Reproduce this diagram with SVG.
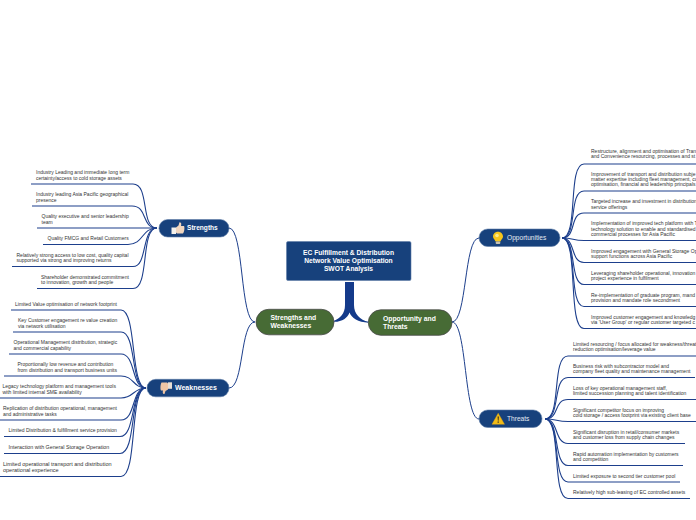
<svg xmlns="http://www.w3.org/2000/svg" width="696" height="520" viewBox="0 0 696 520">
<style>
text{font-family:"Liberation Sans",Arial,sans-serif}
.i{font-size:5px;fill:#333}
.j{font-size:5.3px;fill:#333}
.k{font-size:5.5px;fill:#333}
.b{fill:#17417c;stroke:#5f7ea8;stroke-width:.6}
.g{fill:#476b35;stroke:#4a4a4a;stroke-width:.8}
.w{fill:#fff;font-weight:bold}
.c{fill:none;stroke:#1d3f8c;stroke-width:1.1}
.m{fill:none;stroke:#1d3f8c;stroke-width:1}
</style>
<g id="connectors">
<path d="M345 282H354V305C354 314 360 320 368.500 321.800V322.800C358 322 351.500 318 349.500 312.500C347.500 318 342 322 334 321.800V320.800C340 318 345 314 345 305Z" fill="#143a8a"/>
<path class="m" d="M255 322C240 322 244 228 229 228"/>
<path class="m" d="M255 322C240 322 244 388 229 388"/>
<path class="m" d="M452 322C467 322 464 238 479 238"/>
<path class="m" d="M452 322C467 322 464 419 479 419"/>
<path class="c" d="M31 184H133C150 184 140 228 157 228"/>
<path class="c" d="M32 206H132C148 206 141 228 157 228"/>
<path class="c" d="M37 228H157"/>
<path class="c" d="M43 244.500H128C144 244.500 141 228 157 228"/>
<path class="c" d="M12 266.500H133C148 266.500 141 228 157 228"/>
<path class="c" d="M37 288.500H133C150 288.500 140 228 157 228"/>
<path class="c" d="M11 310H121C137 310 130 388 146 388"/>
<path class="c" d="M13 332H121C137 332 130 388 146 388"/>
<path class="c" d="M9 354H121C136 354 131 388 146 388"/>
<path class="c" d="M4 376H121C134 376 133 388 146 388"/>
<path class="c" d="M0 398H121C134 398 133 388 146 388"/>
<path class="c" d="M0 420H121C136 420 131 388 146 388"/>
<path class="c" d="M4 436.500H120C136 436.500 130 388 146 388"/>
<path class="c" d="M4 453.500H120C137 453.500 129 388 146 388"/>
<path class="c" d="M0 476.500H121C138 476.500 129 388 146 388"/>
<path class="c" d="M696 164H584C567 164 579 238 562 238"/>
<path class="c" d="M696 191H584C568 191 578 238 562 238"/>
<path class="c" d="M696 213H584C569 213 577 238 562 238"/>
<path class="c" d="M696 240.500H584C572 240.500 574 238 562 238"/>
<path class="c" d="M696 262.500H584C570 262.500 576 238 562 238"/>
<path class="c" d="M696 284.500H584C569 284.500 577 238 562 238"/>
<path class="c" d="M696 306.500H584C568 306.500 578 238 562 238"/>
<path class="c" d="M696 328.500H584C567 328.500 579 238 562 238"/>
<path class="c" d="M696 356H568C551 356 562 419 545 419"/>
<path class="c" d="M695 377.500H568C552 377.500 561 419 545 419"/>
<path class="c" d="M696 399.500H568C553 399.500 560 419 545 419"/>
<path class="c" d="M696 421.500H568C556 421.500 557 419 545 419"/>
<path class="c" d="M685 443.500H568C554 443.500 559 419 545 419"/>
<path class="c" d="M683 465.500H568C553 465.500 560 419 545 419"/>
<path class="c" d="M680 482H568C552 482 561 419 545 419"/>
<path class="c" d="M690 498.500H568C551 498.500 562 419 545 419"/>
</g>
<g id="central"><rect class="b" x="286.500" y="241.500" width="124.500" height="39" rx="1.500"/>
<text class="w" font-size="6.700" text-anchor="middle"><tspan x="348.500" y="254.800">EC Fulfillment &amp; Distribution</tspan><tspan x="348.500" y="262.800">Network Value Optimisation</tspan><tspan x="348.500" y="270.800">SWOT Analysis</tspan></text></g>
<g id="strengths-weaknesses"><rect class="g" x="256" y="309.300" width="78" height="25.500" rx="12.700"/>
<text class="w" font-size="6.800"><tspan x="270.500" y="319.700">Strengths and</tspan><tspan x="270.500" y="327.700">Weaknesses</tspan></text></g>
<g id="opportunity-threats"><rect class="g" x="368.300" y="309.800" width="83.700" height="25.500" rx="12.700"/>
<text class="w" font-size="6.800"><tspan x="383" y="321">Opportunity and</tspan><tspan x="383" y="329">Threats</tspan></text></g>
<g id="strengths"><rect class="b" x="159" y="219.500" width="70" height="17.500" rx="8.700"/>
<g id="icon-thumb-up"><path d="M176 227.500L178.500 225.500L179.500 222.300C181.500 222 181.500 224.500 181 226H184C184.800 227 184.500 232 183 233.500H177L176 232.500Z" fill="#f1d6bf"/><rect x="171.500" y="227.500" width="4.500" height="6.500" fill="#f4f1ec"/></g>
<text class="w" font-size="6.600" x="187" y="230.400">Strengths</text></g>
<g id="weaknesses"><rect class="b" x="147" y="379.300" width="82" height="17.500" rx="8.700"/>
<g id="icon-thumb-down"><path d="M168 389.500L165.500 391L164.500 394C162.500 394.500 162.500 392 163 390.500H161C160 389 160.500 384 161.500 382.500H167L168 383.500Z" fill="#eec5a5"/><rect x="168" y="382.300" width="4" height="6.500" fill="#e9dfd5"/></g>
<text class="w" font-size="7" x="175" y="390.400">Weaknesses</text></g>
<g id="opportunities"><rect class="b" x="479" y="229" width="81" height="17.500" rx="8.700"/>
<g id="icon-bulb"><path d="M498 231.700C501 231.700 503 234 503 236.500C503 238.700 501 239.500 500.500 241.500H495.500C495 239.500 493 238.700 493 236.500C493 234 495 231.700 498 231.700Z" fill="#f7c61c"/><circle cx="497" cy="235.500" r="1.800" fill="#fdeb8c"/><rect x="495.700" y="241.500" width="4.600" height="2.500" rx="1" fill="#c9c3b2"/></g>
<text font-size="6.600" fill="#e4eaf3" x="507" y="240.200">Opportunities</text></g>
<g id="threats"><rect class="b" x="479" y="410" width="63" height="17.500" rx="8.700"/>
<g id="icon-warning"><path d="M498.200 413.200L504.500 424.300H492Z" fill="#f2bc17" stroke="#e0a30f" stroke-width=".4" stroke-linejoin="round"/><path d="M497.600 416.500H498.800L498.500 420.800H497.900Z" fill="#222"/><rect x="497.600" y="421.500" width="1.200" height="1.200" fill="#222"/></g>
<text font-size="6.600" fill="#e4eaf3" x="507" y="421.200">Threats</text></g>
<g id="strength-items">
<text class="i"><tspan x="36" y="173.800">Industry Leading and immediate long term</tspan><tspan x="36" y="179.800">certainty/access to cold storage assets</tspan></text>
<text class="i"><tspan x="36" y="195.800">Industry leading Asia Pacific geographical</tspan><tspan x="36" y="201.800">presence</tspan></text>
<text class="i"><tspan x="41.500" y="217.800">Quality executive and senior leadership</tspan><tspan x="41.500" y="223.800">team</tspan></text>
<text class="i" x="47.500" y="239.800">Quality FMCG and Retail Customers</text>
<text class="i"><tspan x="16.500" y="256.800">Relatively strong access to low cost, quality capital</tspan><tspan x="16.500" y="261.800">supported via strong and improving returns</tspan></text>
<text class="i"><tspan x="41" y="278.800">Shareholder demonstrated commitment</tspan><tspan x="41" y="284">to innovation, growth and people</tspan></text>
</g>
<g id="weakness-items">
<text class="i" x="15" y="305.800">Limited Value optimisation of network footprint</text>
<text class="i"><tspan x="18" y="321.800">Key Customer engagement re value creation</tspan><tspan x="18" y="327.800">via network utilisation</tspan></text>
<text class="i"><tspan x="13.500" y="344">Operational Management distribution, strategic</tspan><tspan x="13.500" y="350">and commercial capability</tspan></text>
<text class="i"><tspan x="17.500" y="365.800">Proportionally low revenue and contribution</tspan><tspan x="17.500" y="371.800">from distribution and transport business units</tspan></text>
<text class="i"><tspan x="2.500" y="387.800">Legacy technology platform and management tools</tspan><tspan x="2.500" y="393.800">with limited internal SME availability</tspan></text>
<text class="i"><tspan x="3" y="409.800">Replication of distribution operational, management</tspan><tspan x="3" y="415.800">and administrative tasks</tspan></text>
<text class="i" x="8.500" y="431.800">Limited Distribution &amp; fulfillment service provision</text>
<text class="j" x="8.500" y="448.800">Interaction with General Storage Operation</text>
<text class="k" x="3" y="465.800"><tspan>Limited operational transport and distribution</tspan><tspan x="3" y="471.800">operational experience</tspan></text>
</g>
<g id="opportunity-items">
<text class="i"><tspan x="591" y="153.400">Restructure, alignment and optimisation of Tran</tspan><tspan x="591" y="158.400">and Convenience resourcing, processes and st</tspan></text>
<text class="i"><tspan x="591" y="175.700">Improvement of transport and distribution subje</tspan><tspan x="591" y="181">matter expertise including fleet management, cu</tspan><tspan x="591" y="186.400">optimisation, financial and leadership principals</tspan></text>
<text class="i"><tspan x="591" y="203">Targeted increase and investment in distribution</tspan><tspan x="591" y="208.700">service offerings</tspan></text>
<text class="i"><tspan x="591" y="224.700">Implementation of improved tech platform with T</tspan><tspan x="591" y="230.700">technology solution to enable and standardised</tspan><tspan x="591" y="236">commercial processes for Asia Pacific</tspan></text>
<text class="i"><tspan x="591" y="252.700">Improved engagement with General Storage Op</tspan><tspan x="591" y="257.700">support functions across Asia Pacific</tspan></text>
<text class="i"><tspan x="591" y="275">Leveraging shareholder operational, innovation</tspan><tspan x="591" y="280">project experience in fulfilment</tspan></text>
<text class="i"><tspan x="591" y="296.700">Re-implementation of graduate program, mand</tspan><tspan x="591" y="302">provision and mandate role secondment</tspan></text>
<text class="i"><tspan x="591" y="318.700">Improved customer engagement and knowledg</tspan><tspan x="591" y="324">via 'User Group' or regular customer targeted c</tspan></text>
</g>
<g id="threat-items">
<text class="i"><tspan x="573" y="345.700">Limited resourcing / focus allocated for weakness/threat</tspan><tspan x="573" y="351">reduction optimisation/leverage value</tspan></text>
<text class="i"><tspan x="573" y="367.700">Business risk with subcontractor model and</tspan><tspan x="573" y="373">company fleet quality and maintenance management</tspan></text>
<text class="i"><tspan x="573" y="389.700">Loss of key operational management staff,</tspan><tspan x="573" y="395">limited succession planning and talent identification</tspan></text>
<text class="i"><tspan x="573" y="411.700">Significant competitor focus on improving</tspan><tspan x="573" y="417">cold storage / access footprint via existing client base</tspan></text>
<text class="i"><tspan x="573" y="433.700">Significant disruption in retail/consumer markets</tspan><tspan x="573" y="439">and customer loss from supply chain changes</tspan></text>
<text class="i"><tspan x="573" y="455.700">Rapid automation implementation by customers</tspan><tspan x="573" y="461">and competition</tspan></text>
<text class="i" x="573" y="477.700">Limited exposure to second tier customer pool</text>
<text class="i" x="573" y="493.700">Relatively high sub-leasing of EC controlled assets</text>
</g>
</svg>
